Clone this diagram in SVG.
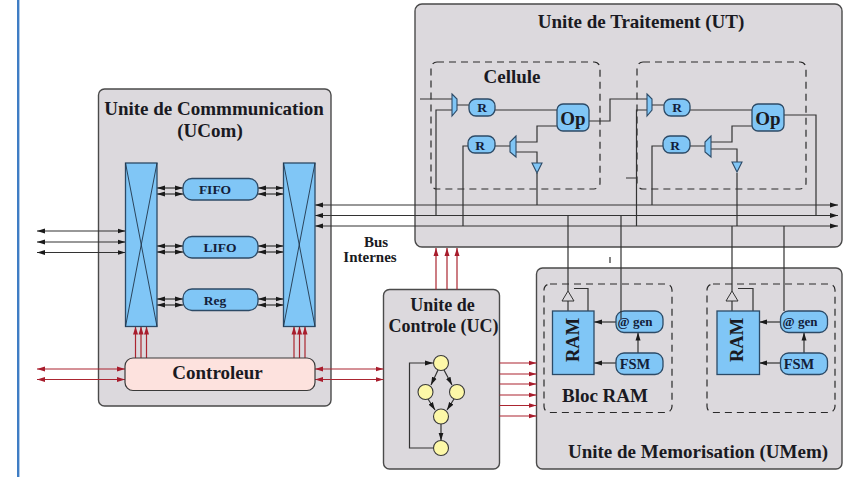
<svg xmlns="http://www.w3.org/2000/svg" width="850" height="477" viewBox="0 0 850 477">
<style>
text{font-family:"Liberation Serif","Times New Roman",serif;font-weight:bold;fill:#1a1a22;text-anchor:middle}
.t{font-size:19px}.c{font-size:18px}.s{font-size:13.5px;fill:#12203a}.f{font-size:14.500px;fill:#12203a}.g{font-size:13px;fill:#12203a}.m{font-size:15px}.a{font-size:18.500px}
.box{fill:#dcd9dd;stroke:#4a4a4a;stroke-width:1.4}
.blue{fill:#80c6f6;stroke:#2c4a66;stroke-width:1.3}
.dash{fill:none;stroke:#2a2a2a;stroke-width:1.2;stroke-dasharray:7 5}
.k{fill:none;stroke:#333;stroke-width:1.2}
.kb{fill:none;stroke:#333;stroke-width:1.2;marker-end:url(#ak)}
.kk{fill:none;stroke:#333;stroke-width:1.2;marker-end:url(#ak);marker-start:url(#aks)}
.r{fill:none;stroke:#ab2530;stroke-width:1.2;marker-end:url(#ar)}
.rr{fill:none;stroke:#ab2530;stroke-width:1.2;marker-end:url(#ar);marker-start:url(#ars)}
.st{fill:#fdf8a8;stroke:#3a3a3a;stroke-width:1.1}
.tri{fill:#80c6f6;stroke:#2c4a66;stroke-width:1.1}
.trw{fill:#dcd9dd;stroke:#333;stroke-width:1}
.x{stroke:#20344a;stroke-width:.9;fill:none}
</style>
<defs>
<marker id="ak" markerUnits="userSpaceOnUse" markerWidth="9" markerHeight="6" refX="8" refY="3" orient="auto"><path d="M0 .5L8 3L0 5.500Z" fill="#1a1a1a"/></marker>
<marker id="aks" markerUnits="userSpaceOnUse" markerWidth="9" markerHeight="6" refX="0" refY="3" orient="auto"><path d="M8 .5L0 3L8 5.500Z" fill="#1a1a1a"/></marker>
<marker id="ar" markerUnits="userSpaceOnUse" markerWidth="9" markerHeight="6" refX="8" refY="3" orient="auto"><path d="M0 .5L8 3L0 5.500Z" fill="#a81c2c"/></marker>
<marker id="ars" markerUnits="userSpaceOnUse" markerWidth="9" markerHeight="6" refX="0" refY="3" orient="auto"><path d="M8 .5L0 3L8 5.500Z" fill="#a81c2c"/></marker>
</defs>
<rect width="850" height="477" fill="#fff"/>
<rect x="17" y="0" width="2.400" height="477" fill="#3f7dc4"/>
<g id="ucom"><rect class="box" x="98.500" y="89" width="232.500" height="317" rx="6"/>
<text class="t" x="214" y="115">Unite de Commmunication</text><text class="t" x="210" y="136.500">(UCom)</text></g>
<g id="ut"><rect class="box" x="415" y="4" width="427" height="243" rx="7"/>
<text class="t" x="641" y="28">Unite de Traitement (UT)</text></g>
<g id="uc"><rect class="box" x="383.500" y="289.500" width="116" height="179.500" rx="6"/>
<text class="c" x="442.500" y="311">Unite de</text><text class="c" x="443.500" y="332">Controle (UC)</text></g>
<g id="umem"><rect class="box" x="536.500" y="268" width="305.500" height="201" rx="6"/>
<text class="t" x="698" y="458">Unite de Memorisation (UMem)</text></g>
<g id="cellule1"><rect class="dash" x="431" y="62" width="169" height="127" rx="6"/><text class="t" x="512" y="83">Cellule</text></g>
<g id="cellule2"><rect class="dash" x="637" y="62" width="169" height="127" rx="6"/></g>
<g id="blocram1"><rect class="dash" x="544" y="284" width="128" height="128.500" rx="6"/><text class="t" x="605" y="402">Bloc RAM</text></g>
<g id="blocram2"><rect class="dash" x="707" y="284" width="128" height="128.500" rx="6"/></g>
<g id="connectors">
<path class="kk" d="M37 231H125.500"/><path class="kk" d="M37 242H125.500"/><path class="kk" d="M37 252.500H125.500"/>
<path class="rr" d="M37 369H125"/><path class="rr" d="M37 379.500H125"/><path class="rr" d="M315 369H383.500"/><path class="rr" d="M315 379.500H383.500"/>
<path class="kk" d="M157 188H183"/><path class="kk" d="M157 194H183"/><path class="kk" d="M258 188H283.500"/><path class="kk" d="M258 194H283.500"/>
<path class="kk" d="M157 246H183"/><path class="kk" d="M157 252H183"/><path class="kk" d="M258 246H283.500"/><path class="kk" d="M258 252H283.500"/>
<path class="kk" d="M157 299H183"/><path class="kk" d="M157 305H183"/><path class="kk" d="M258 299H283.500"/><path class="kk" d="M258 305H283.500"/>
<path class="r" d="M135.500 358V326.500"/><path class="r" d="M141 358V326.500"/><path class="r" d="M146.500 358V326.500"/>
<path class="r" d="M294 358V326.500"/><path class="r" d="M299.500 358V326.500"/><path class="r" d="M305 358V326.500"/>
<path class="r" d="M436 289.500V248"/><path class="r" d="M447 289.500V248"/><path class="r" d="M457 289.500V248"/>
<path class="r" d="M499.500 363H536.500"/><path class="r" d="M499.500 374H536.500"/><path class="r" d="M499.500 384H536.500"/><path class="r" d="M499.500 395H536.500"/><path class="r" d="M499.500 405.500H536.500"/><path class="r" d="M499.500 416H536.500"/>
<path class="kk" d="M315 205H838"/><path class="kk" d="M315 215.500H838"/><path class="kk" d="M315 226H838"/>
<path class="k" d="M420 99H452M436 215.500V110H452M457 105H469M495 110H557M557 126H537V142H516M510 146H495M468 146H463V226M516 152H537V163M537 173V205"/>
<path class="k" d="M589 121H610V99H647M636.500 226V110H647M626 178H636.500M652 105H664M690 110H752M752 126H732V142H711M705 146H690M663 146H652V205M711 149H737V163M737 173V226M784 115H816V215.500"/>
<path class="k" d="M568 215.500V291M621 215.500V311M732 226V291M784 226V311M610 257V263"/>
<path class="k" d="M568 301V311M732 301V311M574 288.500H588V311M738 288.500H753V311"/>
<path class="kb" d="M616 322H594"/><path class="kb" d="M616 363H594"/><path class="kb" d="M780.500 322H759"/><path class="kb" d="M780.500 363H759"/><path class="kb" d="M638 353V332.500"/><path class="kb" d="M804 353V332.500"/>
<path class="kb" d="M434 448H409.500V363H433"/><path class="kb" d="M438 370L431 385"/><path class="kb" d="M444 370L452 385"/><path class="kb" d="M428 399L435 410"/><path class="kb" d="M454 399L447 410"/><path class="kb" d="M441 424V440.500"/>
</g>
<g id="xbar-left"><rect class="blue" x="125.500" y="163" width="31.500" height="163.500"/><path class="x" d="M125.500 163L157 326.500M157 163L125.500 326.500"/></g>
<g id="xbar-right"><rect class="blue" x="283.500" y="163" width="31.500" height="163.500"/><path class="x" d="M283.500 163L315 326.500M315 163L283.500 326.500"/></g>
<g id="fifo"><rect class="blue" x="183" y="178.500" width="75" height="21.500" rx="9"/><text class="s" x="215" y="194">FIFO</text></g>
<g id="lifo"><rect class="blue" x="183" y="236.500" width="75" height="21.500" rx="9"/><text class="s" x="220" y="252">LIFO</text></g>
<g id="reg"><rect class="blue" x="183" y="289" width="75" height="21.500" rx="9"/><text class="s" x="215" y="305">Reg</text></g>
<g id="controleur"><rect x="125" y="358" width="190" height="32.500" rx="8" fill="#fde2de" stroke="#3a3a3a" stroke-width="1.2"/><text x="217.500" y="379" class="t">Controleur</text></g>
<g id="mux1a"><path class="tri" d="M452 94L457 99V110L452 116Z"/></g>
<g id="r1a"><rect class="blue" x="469" y="99" width="26" height="17" rx="7"/><text class="s" x="482" y="112">R</text></g>
<g id="op1"><rect class="blue" x="557" y="104" width="32" height="27" rx="6"/><text x="573" y="125" style="font-size:19px">Op</text></g>
<g id="r1b"><rect class="blue" x="468" y="136" width="27" height="17" rx="7"/><text class="s" x="480" y="150">R</text></g>
<g id="mux1b"><path class="tri" d="M516 136L510 142V152L516 157Z"/></g>
<g id="tri1"><path class="tri" d="M532 163H542L537 173Z"/></g>
<g id="mux2a"><path class="tri" d="M647 94L652 99V110L647 116Z"/></g>
<g id="r2a"><rect class="blue" x="664" y="99" width="26" height="17" rx="7"/><text class="s" x="677" y="112">R</text></g>
<g id="op2"><rect class="blue" x="752" y="104" width="32" height="27" rx="6"/><text x="768" y="125" style="font-size:19px">Op</text></g>
<g id="r2b"><rect class="blue" x="663" y="136" width="27" height="17" rx="7"/><text class="s" x="675" y="150">R</text></g>
<g id="mux2b"><path class="tri" d="M711 136L705 142V152L711 157Z"/></g>
<g id="tri2"><path class="tri" d="M732 162H742L737 172Z"/></g>
<g id="ram1"><rect class="blue" x="552.500" y="311" width="41.500" height="63.500"/><text class="a" transform="translate(578.500 340) rotate(-90)">RAM</text></g>
<g id="ram2"><rect class="blue" x="717" y="311" width="42.500" height="63.500"/><text class="a" transform="translate(742.500 340) rotate(-90)">RAM</text></g>
<g id="tribuf1"><path class="trw" d="M568 291L574 301H562Z"/></g>
<g id="tribuf2"><path class="trw" d="M732 291L738 301H726Z"/></g>
<g id="gen1"><rect class="blue" x="616" y="311" width="47" height="21.500" rx="8"/><path class="k" d="M621 311V319"/><text class="g" x="635" y="326">@ gen</text></g>
<g id="fsm1"><rect class="blue" x="616" y="353" width="47" height="21.500" rx="8"/><text class="f" x="635" y="369">FSM</text></g>
<g id="gen2"><rect class="blue" x="780.500" y="311" width="47" height="21.500" rx="8"/><text class="g" x="800" y="326">@ gen</text></g>
<g id="fsm2"><rect class="blue" x="780.500" y="353" width="47" height="21.500" rx="8"/><text class="f" x="799" y="369">FSM</text></g>
<g id="s1"><circle class="st" cx="441" cy="363" r="7.500"/></g>
<g id="s2"><circle class="st" cx="425.500" cy="392" r="7.500"/></g>
<g id="s3"><circle class="st" cx="457" cy="392" r="7.500"/></g>
<g id="s4"><circle class="st" cx="441" cy="416.500" r="7.500"/></g>
<g id="s5"><circle class="st" cx="441" cy="448" r="7.500"/></g>
<g id="bus-label"><text class="m" x="376" y="247">Bus</text><text class="m" x="370" y="262">Internes</text></g>
</svg>
